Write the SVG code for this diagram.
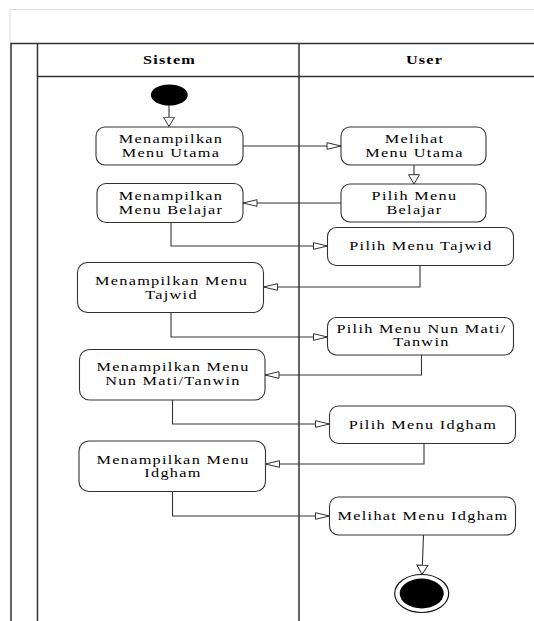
<svg xmlns="http://www.w3.org/2000/svg" width="534" height="621" viewBox="0 0 534 621">
<style>
.frame{stroke:#333;stroke-width:1.5;fill:none}
.node rect{fill:#fff;stroke:#333;stroke-width:1.1}
text{font-family:'Liberation Serif','Times New Roman',serif;font-size:13px;letter-spacing:1.05px;fill:#000;text-anchor:middle}
.hdr{font-weight:bold;letter-spacing:0.9px}
#connectors path{fill:none;stroke:#333;stroke-width:1.1}
.ah{marker-end:url(#ah)}
.av{marker-end:url(#av)}
</style>
<defs>
<marker id="ah" viewBox="0 0 16 8" refX="15" refY="4" markerWidth="16" markerHeight="8" markerUnits="userSpaceOnUse" orient="auto"><path d="M1,0.7 L15,4 L1,7.3 Z" fill="#fff" stroke="#333" stroke-width="1"/></marker>
<marker id="av" viewBox="0 0 11 13" refX="10" refY="6.5" markerWidth="11" markerHeight="13" markerUnits="userSpaceOnUse" orient="auto"><path d="M0.7,1 L10,6.5 L0.7,12 Z" fill="#fff" stroke="#333" stroke-width="1"/></marker>
</defs>
<rect width="534" height="621" fill="#fff"/>
<g id="frame">
<path d="M10,43 V9.5 H534" stroke="#ddd" stroke-width="1" fill="none"/>
<path class="frame" d="M11,621 V43.5 H534 M37.5,621 V43.5 M299,621 V43.5 M37.5,76.5 H534"/>
<text class="hdr" transform="matrix(1.25,0,0,1,169.5,63.5)">Sistem</text>
<text class="hdr" transform="matrix(1.25,0,0,1,424.5,63.5)">User</text>
</g>
<g id="connectors">
<path class="av" d="M169,105 V126.5"/>
<path class="ah" d="M243,146 H341"/>
<path class="av" d="M414,165 V184"/>
<path class="ah" d="M341,203 H243"/>
<path class="ah" d="M171,222.5 V246 H327.5"/>
<path class="ah" d="M420,265.5 V287 H263.5"/>
<path class="ah" d="M171,312.5 V337 H327.5"/>
<path class="ah" d="M421.5,355 V375 H265"/>
<path class="ah" d="M172.5,400 V424 H329.5"/>
<path class="ah" d="M424,443.5 V464 H265.5"/>
<path class="ah" d="M172.5,491.5 V516 H329.5"/>
<path class="av" d="M423.5,535 L422,574.5"/>
</g>
<g id="start"><ellipse cx="169.3" cy="95" rx="18.4" ry="10.5" fill="#000"/></g>
<g id="n1" class="node"><rect x="96" y="127" width="147" height="38" rx="9"/><text transform="matrix(1.25,0,0,1,171,143.3)">Menampilkan</text><text transform="matrix(1.25,0,0,1,171,157)">Menu Utama</text></g>
<g id="n2" class="node"><rect x="341" y="127" width="145" height="38" rx="9"/><text transform="matrix(1.25,0,0,1,414.5,143.3)">Melihat</text><text transform="matrix(1.25,0,0,1,414.5,157)">Menu Utama</text></g>
<g id="n3" class="node"><rect x="341" y="184" width="145" height="38" rx="9"/><text transform="matrix(1.25,0,0,1,414.5,200)">Pilih Menu</text><text transform="matrix(1.25,0,0,1,414.5,213.5)">Belajar</text></g>
<g id="n4" class="node"><rect x="97" y="183.5" width="146" height="39" rx="9"/><text transform="matrix(1.25,0,0,1,171,200)">Menampilkan</text><text transform="matrix(1.25,0,0,1,171,213.5)">Menu Belajar</text></g>
<g id="n5" class="node"><rect x="327.5" y="227.5" width="186" height="38" rx="9"/><text transform="matrix(1.25,0,0,1,421,250)">Pilih Menu Tajwid</text></g>
<g id="n6" class="node"><rect x="77.5" y="262.5" width="186" height="50" rx="10"/><text transform="matrix(1.25,0,0,1,171.5,285)">Menampilkan Menu</text><text transform="matrix(1.25,0,0,1,171.5,298.5)">Tajwid</text></g>
<g id="n7" class="node"><rect x="327.5" y="317.5" width="186" height="37.5" rx="9"/><text transform="matrix(1.25,0,0,1,421.5,332.5)">Pilih Menu Nun Mati/</text><text transform="matrix(1.25,0,0,1,421.5,346)">Tanwin</text></g>
<g id="n8" class="node"><rect x="79.5" y="349.5" width="185.5" height="50.5" rx="10"/><text transform="matrix(1.25,0,0,1,173,371)">Menampilkan Menu</text><text transform="matrix(1.25,0,0,1,173,385)">Nun Mati/Tanwin</text></g>
<g id="n9" class="node"><rect x="329.5" y="406" width="186" height="37.5" rx="9"/><text transform="matrix(1.25,0,0,1,423,428.5)">Pilih Menu Idgham</text></g>
<g id="n10" class="node"><rect x="79" y="441" width="186.5" height="50.5" rx="10"/><text transform="matrix(1.25,0,0,1,173,463.5)">Menampilkan Menu</text><text transform="matrix(1.25,0,0,1,173,477)">Idgham</text></g>
<g id="n11" class="node"><rect x="329.5" y="497" width="186" height="38" rx="9"/><text transform="matrix(1.25,0,0,1,423,520)">Melihat Menu Idgham</text></g>
<g id="end"><ellipse cx="421.7" cy="593.5" rx="27" ry="19" fill="#fff" stroke="#111" stroke-width="1.2"/><ellipse cx="421.7" cy="593.5" rx="22" ry="15" fill="#000"/></g>
</svg>
